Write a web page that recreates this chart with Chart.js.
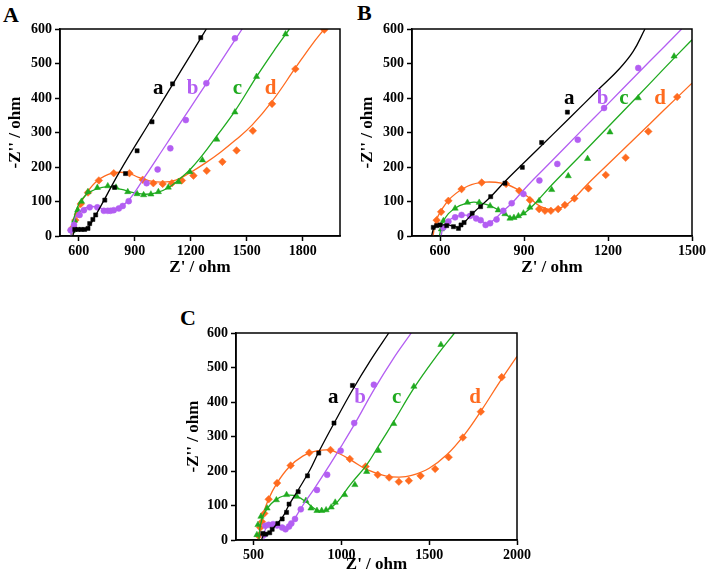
<!DOCTYPE html>
<html>
<head>
<meta charset="utf-8">
<script src="https://cdn.jsdelivr.net/npm/chart.js@4.4.1/dist/chart.umd.min.js"></script>
<style>
  body { margin: 0; background: #fff; width: 708px; height: 582px; position: relative; overflow: hidden; }
  canvas { position: absolute; }
  .panel { position: absolute; font: bold 22px 'Liberation Serif', serif; line-height: 22px; color: #000; }
</style>
</head>
<body>
<div class="panel" style="left:3px;top:4px">A</div>
<div class="panel" style="left:357px;top:2px">B</div>
<div class="panel" style="left:180px;top:307px">C</div>
<canvas id="chartA" width="354" height="290" style="left:0;top:0"></canvas>
<canvas id="chartB" width="354" height="290" style="left:354px;top:0"></canvas>
<canvas id="chartC" width="400" height="292" style="left:150px;top:290px"></canvas>
<script>
// series names and colours (a, b, c, d)
const seriesNames = ['a', 'b', 'c', 'd'];
const seriesColors = ['#000000', '#b35ef2', '#1faa1f', '#ff6b1f'];
const seriesMarkers = ['rect', 'circle', 'triangle', 'rectRot'];
const yTicks = [0, 100, 200, 300, 400, 500, 600];

// ---- panel A ----
const A_xTicks = [600, 900, 1200, 1500, 1800];
const A_a_pts = [[579,19],[596,19],[614,19],[632,19],[650,22],[659,36],[676,48],[691,61],[740,104],[792,141],[851,181],[913,247],[993,331],[1103,441],[1254,575]];
const A_a_fit = [[568,0],[578,14],[595,19],[630,20],[655,28],[680,50],[720,88],[819,186],[1000,347],[1103,439],[1200,525],[1284,600]];
const A_b_pts = [[557,17],[575,32],[605,61],[628,75],[659,83],[700,83],[735,73],[756,73],[771,73],[788,75],[815,80],[836,87],[868,101],[964,153],[1023,193],[1091,254],[1174,336],[1284,443],[1437,573]];
const A_b_fit = [[558,0],[570,35],[590,62],[620,78],[660,85],[700,84],[740,77],[780,76],[820,84],[870,105],[961,177],[1050,250],[1150,332],[1250,414],[1350,496],[1476,600]];
const A_c_pts = [[565,15],[578,45],[595,75],[615,100],[650,128],[700,140],[756,145],[800,141],[863,128],[913,122],[948,119],[987,121],[1027,128],[1080,141],[1135,157],[1196,186],[1263,220],[1340,280],[1437,359],[1553,462],[1708,585]];
const A_c_fit = [[560,0],[572,45],[590,80],[620,108],[660,128],[720,140],[770,143],[830,135],[900,125],[960,121],[1020,126],[1080,140],[1140,165],[1196,192],[1260,232],[1340,290],[1437,362],[1553,462],[1650,540],[1729,600]];
const A_d_pts = [[561,17],[570,25],[582,46],[596,63],[611,93],[650,126],[708,161],[788,182],[872,182],[943,163],[1000,153],[1050,151],[1100,153],[1153,161],[1215,175],[1286,189],[1370,215],[1446,248],[1533,305],[1636,383],[1761,484],[1916,598]];
const A_d_fit = [[560,0],[575,40],[600,82],[640,122],[700,160],[780,182],[860,183],[920,170],[980,160],[1050,156],[1120,162],[1192,182],[1280,212],[1360,243],[1440,278],[1530,322],[1636,390],[1761,487],[1850,555],[1916,600]];
const A_labelX = [1027, 1210, 1450, 1628];
const A_labelY = 412;

// ---- panel B ----
const B_xTicks = [600, 900, 1200, 1500];
const B_a_pts = [[576,25],[588,30],[600,32],[624,30],[648,27],[666,22],[675,32],[686,39],[715,66],[745,85],[781,114],[832,153],[894,199],[963,271],[1055,359]];
const B_a_fit = [[570,0],[578,22],[595,31],[625,32],[655,27],[670,26],[690,42],[720,68],[780,113],[832,158],[950,252],[1060,340],[1171,429],[1240,484],[1290,535],[1332,600]];
const B_b_pts = [[612,25],[630,42],[654,54],[677,61],[707,58],[729,51],[745,46],[763,32],[779,37],[802,48],[826,73],[856,95],[898,122],[955,161],[1019,209],[1092,279],[1186,371],[1308,487]];
const B_b_fit = [[604,0],[612,28],[630,45],[660,57],[700,60],[730,52],[755,40],[770,35],[790,45],[820,68],[860,98],[915,148],[1000,218],[1100,301],[1200,383],[1300,466],[1400,548],[1463,600]];
const B_c_pts = [[605,20],[612,44],[654,80],[698,97],[740,97],[779,87],[808,75],[832,64],[850,51],[864,53],[880,58],[898,66],[921,83],[954,102],[999,134],[1058,174],[1127,224],[1207,301],[1308,400],[1436,521]];
const B_c_fit = [[598,0],[608,35],[630,65],[670,88],[720,98],[770,90],[810,75],[845,57],[870,52],[900,65],[940,95],[999,148],[1100,232],[1200,316],[1300,400],[1400,485],[1500,569]];
const B_d_pts = [[588,46],[604,70],[630,102],[677,136],[749,155],[836,151],[883,131],[921,104],[954,78],[975,73],[996,73],[1022,78],[1046,90],[1080,109],[1130,138],[1192,177],[1263,227],[1344,303],[1447,403]];
const B_d_fit = [[575,0],[585,42],[605,75],[640,112],[700,145],[760,156],[820,153],[870,138],[920,110],[960,85],[1000,76],[1040,85],[1080,110],[1124,148],[1200,208],[1300,286],[1400,365],[1500,443]];
const B_labelX = [1062, 1181, 1257, 1386];
const B_labelY = 383;

// ---- panel C ----
const C_xTicks = [500, 1000, 1500, 2000];
const C_a_pts = [[552,19],[570,17],[592,21],[606,31],[638,48],[663,61],[688,80],[702,104],[754,140],[807,186],[871,252],[958,339],[1063,448]];
const C_a_fit = [[545,0],[560,16],[590,22],[625,42],[665,66],[700,100],[760,150],[820,202],[871,255],[960,340],[1060,432],[1165,520],[1270,600]];
const C_b_pts = [[560,15],[567,41],[586,44],[611,46],[634,42],[663,36],[682,31],[702,39],[715,48],[736,61],[769,89],[861,145],[919,189],[996,259],[1073,339],[1185,450]];
const C_b_fit = [[558,0],[563,25],[580,40],[620,46],[660,40],[690,32],[705,38],[730,58],[780,100],[850,152],[930,215],[1000,272],[1080,340],[1185,435],[1295,525],[1398,600]];
const C_c_pts = [[519,15],[525,44],[542,68],[577,92],[630,116],[688,131],[746,126],[798,114],[827,92],[861,85],[888,85],[913,87],[942,95],[965,109],[1019,131],[1077,160],[1144,198],[1211,259],[1298,337],[1413,445],[1567,566]];
const C_c_fit = [[530,0],[538,40],[558,75],[600,105],[650,124],[700,130],[750,126],[800,110],[850,90],[890,83],[930,90],[980,112],[1050,160],[1144,218],[1211,272],[1300,345],[1413,440],[1530,525],[1644,600]];
const C_d_pts = [[529,12],[538,36],[548,53],[561,77],[586,118],[634,165],[711,216],[817,253],[938,261],[1048,235],[1138,213],[1207,189],[1272,181],[1327,169],[1384,172],[1451,186],[1534,206],[1611,240],[1692,297],[1794,372],[1913,472]];
const C_d_fit = [[528,0],[538,38],[555,75],[585,118],[630,162],[700,210],[780,243],[860,258],[930,261],[990,250],[1060,230],[1150,203],[1250,186],[1330,182],[1400,187],[1500,208],[1600,247],[1700,305],[1800,378],[1900,457],[2000,532]];
const C_labelX = [954, 1106, 1315, 1762];
const C_labelY = 397;

const tickFont = { family: "'Liberation Serif', serif", size: 14, weight: 'bold' };
const titleFont = { family: "'Liberation Serif', serif", size: 17, weight: 'bold' };

// frame round the plot and the a/b/c/d letters
const framePlugin = {
  id: 'frame',
  afterDatasetsDraw(chart, args, opts) {
    const ctx = chart.ctx, a = chart.chartArea;
    const xs = chart.scales.x, ys = chart.scales.y;
    ctx.save();
    ctx.strokeStyle = '#000';
    ctx.lineWidth = 1.5;
    ctx.strokeRect(a.left, a.top, a.right - a.left, a.bottom - a.top);
    ctx.font = "bold 21px 'Liberation Serif', serif";
    ctx.textAlign = 'center';
    ctx.textBaseline = 'alphabetic';
    seriesNames.forEach((n, i) => {
      ctx.fillStyle = seriesColors[i];
      ctx.fillText(n, xs.getPixelForValue(opts.labelX[i]), ys.getPixelForValue(opts.labelY));
    });
    ctx.restore();
  }
};

const toXY = arr => arr.map(p => ({ x: p[0], y: p[1] }));

function makeChart(id, p) {
  const W = p.W, H = p.H, area = p.area;
  const datasets = [];
  for (let i = 0; i < 4; i++) {
    datasets.push({
      data: toXY(p.pts[i]),
      showLine: false,
      pointStyle: seriesMarkers[i],
      pointRadius: [2.9, 3.0, 3.6, 3.8][i],
      backgroundColor: seriesColors[i],
      borderColor: seriesColors[i],
      borderWidth: 0.5
    });
    datasets.push({
      data: toXY(p.fits[i]),
      showLine: true,
      pointRadius: 0,
      borderColor: seriesColors[i],
      borderWidth: 1.3,
      tension: 0.4,
      fill: false
    });
  }
  return new Chart(document.getElementById(id), {
    type: 'scatter',
    data: { datasets: datasets },
    options: {
      responsive: false,
      animation: false,
      layout: { padding: { left: 0, top: area.top, right: W - area.right, bottom: 0 } },
      plugins: {
        legend: { display: false },
        tooltip: { enabled: false },
        frame: { labelX: p.labelX, labelY: p.labelY }
      },
      scales: {
        x: {
          type: 'linear',
          min: p.xMin, max: p.xMax,
          afterBuildTicks: s => { s.ticks = p.xTicks.map(v => ({ value: v })); },
          afterFit: s => { s.height = H - area.bottom; },
          ticks: { font: tickFont, color: '#000', padding: 2, maxRotation: 0, autoSkip: false, callback: v => String(v) },
          grid: { drawOnChartArea: false, tickLength: 5, tickColor: '#000', tickWidth: 1.5 },
          border: { color: '#000', width: 1.5 },
          title: { display: true, text: "Z' / ohm", font: titleFont, color: '#000', padding: { top: 0, bottom: p.xTitlePad } }
        },
        y: {
          min: 0, max: 600,
          afterBuildTicks: s => { s.ticks = yTicks.map(v => ({ value: v })); },
          afterFit: s => { s.width = area.left; },
          ticks: { font: tickFont, color: '#000', padding: 3, callback: v => String(v) },
          grid: { drawOnChartArea: false, tickLength: 5, tickColor: '#000', tickWidth: 1.5 },
          border: { color: '#000', width: 1.5 },
          title: { display: true, text: "-Z'' / ohm", font: titleFont, color: '#000', padding: { top: p.yTitlePad, bottom: 0 } }
        }
      }
    },
    plugins: [framePlugin]
  });
}

makeChart('chartA', {
  W: 354, H: 290, area: { left: 60, right: 340, top: 29, bottom: 236 },
  xMin: 500, xMax: 2000, xTicks: A_xTicks,
  pts: [A_a_pts, A_b_pts, A_c_pts, A_d_pts],
  fits: [A_a_fit, A_b_fit, A_c_fit, A_d_fit],
  labelX: A_labelX, labelY: A_labelY, xTitlePad: 12, yTitlePad: 5
});
makeChart('chartB', {
  W: 354, H: 290, area: { left: 58, right: 338, top: 29, bottom: 236 },
  xMin: 500, xMax: 1500, xTicks: B_xTicks,
  pts: [B_a_pts, B_b_pts, B_c_pts, B_d_pts],
  fits: [B_a_fit, B_b_fit, B_c_fit, B_d_fit],
  labelX: B_labelX, labelY: B_labelY, xTitlePad: 12, yTitlePad: 3
});
makeChart('chartC', {
  W: 400, H: 292, area: { left: 86, right: 367, top: 43, bottom: 250 },
  xMin: 400, xMax: 2000, xTicks: C_xTicks,
  pts: [C_a_pts, C_b_pts, C_c_pts, C_d_pts],
  fits: [C_a_fit, C_b_fit, C_c_fit, C_d_fit],
  labelX: C_labelX, labelY: C_labelY, xTitlePad: 7, yTitlePad: 33
});
</script>
</body>
</html>
